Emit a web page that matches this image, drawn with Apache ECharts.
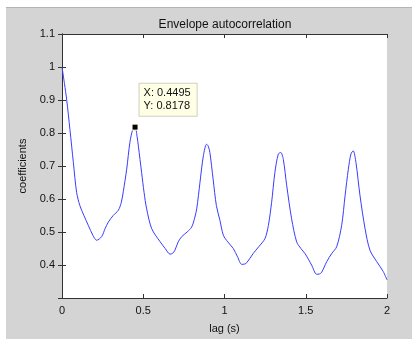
<!DOCTYPE html>
<html>
<head>
<meta charset="utf-8">
<script src="https://cdn.jsdelivr.net/npm/echarts@6/dist/echarts.min.js"></script>
<style>
  html, body { margin: 0; padding: 0; background: #fff; }
  #app { width: 412px; height: 339px; }
</style>
</head>
<body>
<div id="app"></div>
<script>
const lag = [
  0, 0.015, 0.029, 0.049, 0.07, 0.09, 0.11, 0.135, 0.162, 0.19, 0.213, 0.244, 0.265, 0.285, 0.315, 0.347,
  0.365, 0.377, 0.398, 0.418, 0.435, 0.4495, 0.462, 0.47, 0.49, 0.505, 0.521, 0.552, 0.603, 0.635, 0.665,
  0.68, 0.695, 0.715, 0.737, 0.77, 0.798, 0.815, 0.829, 0.849, 0.87, 0.89, 0.9, 0.91, 0.93, 0.95, 0.972,
  0.993, 1.02, 1.054, 1.08, 1.106, 1.125, 1.137, 1.177, 1.21, 1.249, 1.27, 1.29, 1.31, 1.331, 1.346, 1.362,
  1.383, 1.413, 1.444, 1.47, 1.495, 1.536, 1.567, 1.585, 1.598, 1.629, 1.66, 1.69, 1.721, 1.742, 1.762,
  1.778, 1.792, 1.809, 1.834, 1.865, 1.895, 1.937, 1.977, 2.0
]
const coef = [
  1.0, 0.95, 0.90, 0.81, 0.71, 0.62, 0.58, 0.55, 0.52, 0.49, 0.475, 0.486, 0.51, 0.53, 0.55, 0.566,
  0.59, 0.622, 0.69, 0.772, 0.81, 0.8178, 0.79, 0.76, 0.68, 0.62, 0.57, 0.51, 0.471, 0.45, 0.433,
  0.435, 0.445, 0.47, 0.486, 0.50, 0.515, 0.54, 0.57, 0.65, 0.731, 0.766, 0.76, 0.741, 0.66, 0.58, 0.535,
  0.49, 0.47, 0.45, 0.425, 0.402, 0.403, 0.407, 0.435, 0.455, 0.48, 0.52, 0.59, 0.68, 0.736, 0.741, 0.72,
  0.64, 0.54, 0.47, 0.45, 0.435, 0.40, 0.372, 0.373, 0.378, 0.41, 0.435, 0.455, 0.52, 0.61, 0.69,
  0.736, 0.746, 0.71, 0.61, 0.51, 0.445, 0.41, 0.38, 0.355
]
const tip = [0.4495, 0.8178]

const app = document.getElementById('app')
const chart = echarts.init(app)

const font = 'Liberation Sans, Arial, sans-serif'
const axisColor = '#333'

chart.setOption({
  animation: false,
  backgroundColor: '#fff',
  graphic: [
    {
      type: 'rect',
      z: -10,
      shape: { x: 6, y: 8, width: 406, height: 331 },
      style: { fill: '#d4d4d4' }
    },
    {
      type: 'line',
      z: -9,
      shape: { x1: 6, y1: 7.5, x2: 412, y2: 7.5 },
      style: { stroke: '#b4b4b4', lineWidth: 1 }
    }
  ],
  title: {
    text: 'Envelope autocorrelation',
    left: 220,
    textAlign: 'center',
    top: 14,
    textStyle: {
      fontFamily: font,
      fontSize: 12,
      fontWeight: 'normal',
      color: '#111'
    }
  },
  grid: {
    left: 62,
    right: 25,
    top: 34,
    bottom: 39,
    show: true,
    backgroundColor: '#fff',
    borderWidth: 0
  },
  xAxis: [
    {
      type: 'value',
      min: 0,
      max: 2,
      interval: 0.5,
      name: 'lag (s)',
      nameLocation: 'middle',
      nameGap: 25,
      nameTextStyle: { fontFamily: font, fontSize: 11, color: '#111' },
      axisLine: { lineStyle: { color: axisColor } },
      axisTick: { inside: true, length: 4, lineStyle: { color: axisColor } },
      axisLabel: { fontFamily: font, fontSize: 11, color: '#111', margin: 7 },
      splitLine: { show: false }
    },
    {
      type: 'value',
      position: 'top',
      min: 0,
      max: 2,
      interval: 0.5,
      axisLine: { show: true, lineStyle: { color: axisColor } },
      axisTick: { inside: true, length: 4, lineStyle: { color: axisColor } },
      axisLabel: { show: false },
      splitLine: { show: false }
    }
  ],
  yAxis: [
    {
      type: 'value',
      min: 0.3,
      max: 1.1,
      interval: 0.1,
      name: 'coefficients',
      nameLocation: 'middle',
      nameGap: 31,
      nameRotate: 90,
      nameTextStyle: { fontFamily: font, fontSize: 11, color: '#111' },
      axisLine: { show: true, lineStyle: { color: axisColor } },
      axisTick: { inside: true, length: 4, lineStyle: { color: axisColor } },
      axisLabel: {
        fontFamily: font,
        fontSize: 11,
        color: '#111',
        margin: 7,
        showMinLabel: false,
        formatter(v) {
          return String(+v.toFixed(1))
        }
      },
      splitLine: { show: false }
    },
    {
      type: 'value',
      position: 'right',
      min: 0.3,
      max: 1.1,
      interval: 0.1,
      axisLine: { show: true, lineStyle: { color: axisColor } },
      axisTick: { inside: true, length: 4, lineStyle: { color: axisColor } },
      axisLabel: { show: false },
      splitLine: { show: false }
    }
  ],
  series: [
    {
      type: 'line',
      data: lag.map((x, i) => [x, coef[i]]),
      symbol: 'none',
      smooth: 0.3,
      lineStyle: { color: '#3b3bff', width: 1 },
      markPoint: {
        symbol: 'rect',
        symbolSize: 6,
        itemStyle: { color: '#000', borderColor: '#ffffe1', borderWidth: 1 },
        data: [{ coord: tip }],
        label: {
          show: true,
          position: [8, -40],
          align: 'left',
          formatter: 'X: ' + tip[0] + '\nY: ' + tip[1],
          fontFamily: font,
          fontSize: 11,
          lineHeight: 13,
          color: '#111',
          backgroundColor: '#ffffe6',
          borderColor: '#d0d0c0',
          borderWidth: 1,
          padding: [3, 6, 3, 4]
        }
      }
    }
  ]
})
</script>
</body>
</html>
